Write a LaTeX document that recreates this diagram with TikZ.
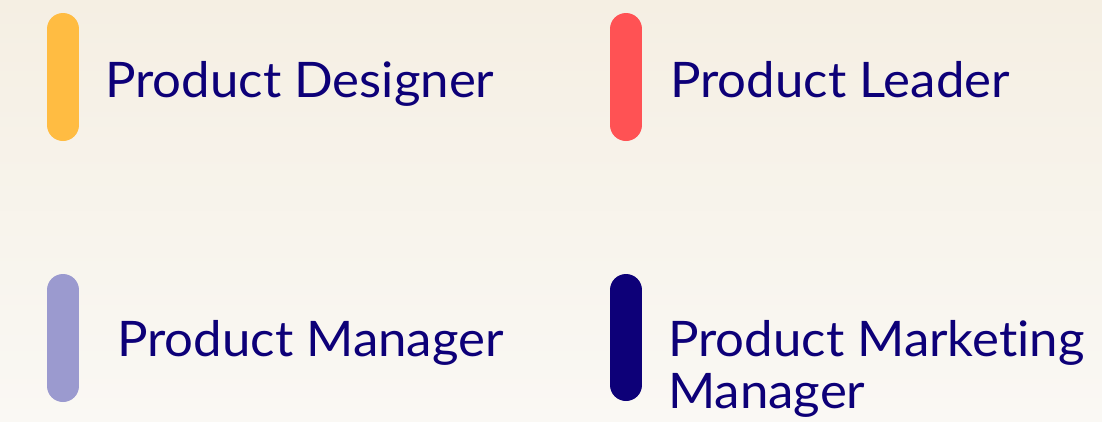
\documentclass[tikz,border=0pt]{standalone}
\usepackage{fontspec}
\setmainfont{Lato}[Ligatures=NoCommon,FakeStretch=1.04]
\usepackage{xcolor}
\definecolor{ink}{HTML}{0D0078}
\definecolor{gold}{HTML}{FFBC42}
\definecolor{coral}{HTML}{FF5254}
\definecolor{lilac}{HTML}{9B9ACF}
\definecolor{bgtop}{HTML}{F5EFE3}
\definecolor{bgbot}{HTML}{FAF8F4}
\usetikzlibrary{positioning}

\begin{document}
\begin{tikzpicture}[x=1pt,y=-1pt,
    bar/.style={line width=32pt,line cap=round},
    lbl/.style={anchor=base west,inner sep=0pt,text=ink,align=left,
      font=\fontsize{49}{52}\selectfont}]
  \shade[top color=bgtop,bottom color=bgbot] (0,0) rectangle (1102,421);
  \useasboundingbox (0,0) rectangle (1102,421);
  % bars
  \draw[bar,gold]  (63,29) -- (63,125);
  \draw[bar,coral] (626,29) -- (626,125);
  \draw[bar,lilac] (63,290) -- (63,386);
  \draw[bar,ink]   (626,290) -- (626,385);
  % labels (base of last line)
  \node[lbl] (designer) at (105,97) {Product Designer};
  \node[lbl] (leader) at (670,97) {Product Leader};
  \node[lbl] (manager) at (117,356) {Product Manager};
  \node[lbl] (marketing) at (668,408) {Product Marketing\\Manager};
\end{tikzpicture}
\end{document}
